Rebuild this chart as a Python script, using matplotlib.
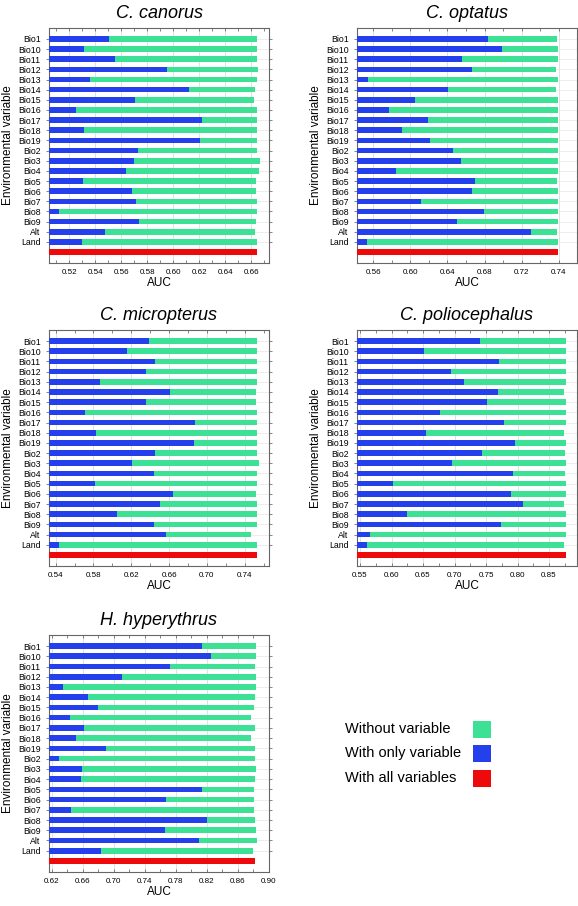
import matplotlib
matplotlib.use("Agg")
import matplotlib.pyplot as plt
import numpy as np
from matplotlib.patches import Rectangle
from matplotlib.ticker import MultipleLocator

plt.rcParams['font.family'] = ['Liberation Sans', 'DejaVu Sans']

variables = ['Bio1', 'Bio10', 'Bio11', 'Bio12', 'Bio13', 'Bio14', 'Bio15', 'Bio16',
             'Bio17', 'Bio18', 'Bio19', 'Bio2', 'Bio3', 'Bio4', 'Bio5', 'Bio6',
             'Bio7', 'Bio8', 'Bio9', 'Alt', 'Land']

species = ['C. canorus', 'C. optatus', 'C. micropterus', 'C. poliocephalus', 'H. hyperythrus']

# AUC with only the variable (blue)
only_canorus = [0.5507, 0.5315, 0.5551, 0.5955, 0.5359, 0.6124, 0.5709, 0.5251, 0.6224, 0.5315, 0.6208,
                0.5730, 0.5699, 0.5635, 0.5302, 0.5679, 0.5714, 0.5118, 0.5738, 0.5474, 0.5295]
only_optatus = [0.6835, 0.6990, 0.6552, 0.6663, 0.5546, 0.6401, 0.6045, 0.5765, 0.6185, 0.5909, 0.6207,
                0.6458, 0.6544, 0.5844, 0.6692, 0.6663, 0.6117, 0.6796, 0.6501, 0.7298, 0.5528]
only_micropterus = [0.6389, 0.6154, 0.6449, 0.6351, 0.5872, 0.6608, 0.6351, 0.5710, 0.6872, 0.5827, 0.6868,
                    0.6456, 0.6206, 0.6442, 0.5819, 0.6643, 0.6502, 0.6044, 0.6438, 0.6565, 0.5432]
only_poliocephalus = [0.7402, 0.6514, 0.7708, 0.6942, 0.7148, 0.7692, 0.7513, 0.6768, 0.7782, 0.6541, 0.7956,
                      0.7444, 0.6958, 0.7930, 0.6018, 0.7898, 0.8088, 0.6250, 0.7745, 0.5658, 0.5611]
only_hyperythrus = [0.8136, 0.8256, 0.7726, 0.7110, 0.6345, 0.6670, 0.6790, 0.6431, 0.6615, 0.6516, 0.6905,
                    0.6285, 0.6585, 0.6576, 0.8136, 0.7670, 0.6444, 0.8200, 0.7662, 0.8097, 0.6837]

# AUC without the variable (green)
without_canorus = [0.6644, 0.6644, 0.6641, 0.6649, 0.6641, 0.6631, 0.6621, 0.6644, 0.6641, 0.6644, 0.6641,
                   0.6641, 0.6664, 0.6656, 0.6636, 0.6636, 0.6644, 0.6644, 0.6636, 0.6626, 0.6644]
without_optatus = [0.7586, 0.7592, 0.7592, 0.7574, 0.7592, 0.7571, 0.7595, 0.7592, 0.7592, 0.7592, 0.7592,
                   0.7595, 0.7595, 0.7592, 0.7586, 0.7592, 0.7592, 0.7592, 0.7592, 0.7583, 0.7592]
without_micropterus = [0.7534, 0.7534, 0.7534, 0.7527, 0.7527, 0.7524, 0.7516, 0.7534, 0.7534, 0.7534, 0.7534,
                       0.7527, 0.7548, 0.7527, 0.7534, 0.7516, 0.7534, 0.7534, 0.7534, 0.7464, 0.7534]
without_poliocephalus = [0.8765, 0.8765, 0.8765, 0.8765, 0.8765, 0.8733, 0.8765, 0.8765, 0.8765, 0.8733, 0.8775,
                         0.8755, 0.8765, 0.8755, 0.8775, 0.8775, 0.8744, 0.8765, 0.8765, 0.8775, 0.8744]
without_hyperythrus = [0.8832, 0.8832, 0.8828, 0.8841, 0.8841, 0.8820, 0.8815, 0.8768, 0.8828, 0.8768, 0.8828,
                       0.8828, 0.8841, 0.8828, 0.8815, 0.8811, 0.8815, 0.8820, 0.8832, 0.8854, 0.8798]

# AUC with all variables (red)
all_auc = [0.6641, 0.7592, 0.7534, 0.8765, 0.8828]

only_auc = [only_canorus, only_optatus, only_micropterus, only_poliocephalus, only_hyperythrus]
without_auc = [without_canorus, without_optatus, without_micropterus, without_poliocephalus, without_hyperythrus]

x_limits = [(0.5044, 0.6736), (0.5424, 0.7797), (0.5330, 0.7657), (0.5452, 0.8944), (0.6162, 0.9005)]
x_ticks = [[0.52, 0.54, 0.56, 0.58, 0.60, 0.62, 0.64, 0.66],
           [0.56, 0.60, 0.64, 0.68, 0.72, 0.76],
           [0.54, 0.58, 0.62, 0.66, 0.70, 0.74],
           [0.55, 0.60, 0.65, 0.70, 0.75, 0.80, 0.85],
           [0.62, 0.66, 0.70, 0.74, 0.78, 0.82, 0.86, 0.90]]
x_ticklabels = [['0.52', '0.54', '0.56', '0.58', '0.60', '0.62', '0.64', '0.66'],
                ['0.56', '0.60', '0.64', '0.68', '0.72', '0.74'],
                ['0.54', '0.58', '0.62', '0.66', '0.70', '0.74'],
                ['0.55', '0.60', '0.65', '0.70', '0.75', '0.80', '0.85'],
                ['0.62', '0.66', '0.70', '0.74', '0.78', '0.82', '0.86', '0.90']]
minor_step = [0.01, 0.02, 0.02, 0.025, 0.02]

GREEN = '#3ce196'
BLUE = '#2440ec'
RED = '#ee0a0a'

W, H = 578, 906
fig = plt.figure(figsize=(W / 100, H / 100), dpi=100)


def px_rect(x0, y0, x1, y1):
    # pixel box (top-left origin) -> figure fraction
    return [x0 / W, 1 - y1 / H, (x1 - x0) / W, (y1 - y0) / H]


boxes = [px_rect(49, 28, 269, 263), px_rect(357, 28, 577, 263),
         px_rect(49, 330, 269, 566), px_rect(357, 330, 577, 566),
         px_rect(49, 635, 269, 872)]

n = len(variables)
ypos = np.arange(n)
bar_h = 0.55

for i, name in enumerate(species):
    ax = fig.add_axes(boxes[i])
    ax.barh(ypos, without_auc[i], height=bar_h, color=GREEN, zorder=2)
    ax.barh(ypos, only_auc[i], height=bar_h, color=BLUE, zorder=3)
    ax.barh([n], [all_auc[i]], height=bar_h, color=RED, zorder=3)

    ax.set_xlim(*x_limits[i])
    ax.set_ylim(n + 1.08, -1.08)
    ax.set_xticks(x_ticks[i])
    ax.set_xticklabels(x_ticklabels[i], fontsize=5.8)
    ax.xaxis.set_minor_locator(MultipleLocator(minor_step[i]))
    ax.set_yticks(ypos)
    ax.set_yticklabels(variables, fontsize=6.3)

    ax.tick_params(axis='x', which='both', direction='in', top=True, bottom=True,
                   length=2.5, width=0.5, color='#555555', pad=4)
    ax.tick_params(axis='y', which='both', direction='out', left=True, right=True,
                   length=2, width=0.5, color='#555555', pad=4)
    ax.grid(axis='x', which='major', color='#dcdcdc', linewidth=0.6)
    ax.grid(axis='y', which='major', color='#e6e6e6', linewidth=0.5)
    ax.set_axisbelow(True)
    for sp in ax.spines.values():
        sp.set_color('#666666')
        sp.set_linewidth(0.8)

    ax.set_title(name, fontsize=13, fontstyle='italic', pad=7)
    ax.set_xlabel('AUC', fontsize=8.5, labelpad=1)
    ax.set_ylabel('Environmental variable', fontsize=8.5, labelpad=3)

# legend in the empty lower-right area
legend_labels = ['Without variable', 'With only variable', 'With all variables']
legend_colors = [GREEN, BLUE, RED]
for k, (lab, col) in enumerate(zip(legend_labels, legend_colors)):
    yc = 729 + k * 24.5
    fig.text(345 / W, 1 - yc / H, lab, fontsize=10.5, va='center', ha='left')
    fig.patches.append(Rectangle((473 / W, 1 - (yc + 8.5) / H), 18 / W, 17 / H,
                                 transform=fig.transFigure, facecolor=col,
                                 edgecolor='none', figure=fig))

fig.savefig('out.png', dpi=100)
